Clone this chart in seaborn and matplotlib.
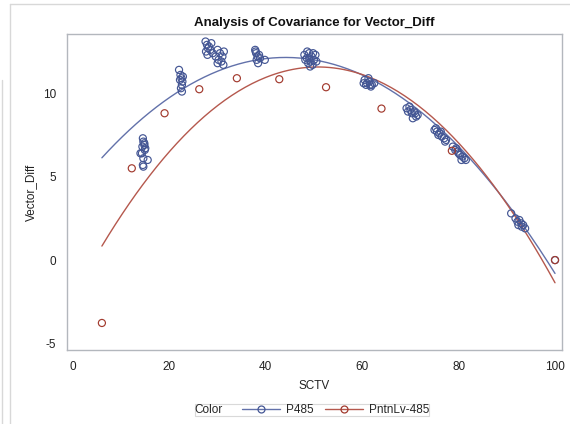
import numpy as np
import pandas as pd
import matplotlib
matplotlib.use("Agg")
import matplotlib.pyplot as plt
import seaborn as sns
from matplotlib.lines import Line2D
from matplotlib.offsetbox import HPacker

# ---- observations -------------------------------------------------------
groups = ["P485", "PntnLv-485"]

p485_sctv = [14.5, 14.6, 14.8, 14.4, 14.9, 14.3, 15.5, 14.0, 14.6, 14.5, 14.6, 14.8, 15.0,
             22.0, 22.3, 22.5, 22.7, 22.6, 22.4, 22.6, 22.2, 22.8,
             27.5, 27.8, 28.0, 27.6, 28.2, 28.5, 27.9, 28.7, 29.0,
             30.0, 30.5, 31.0, 30.2, 30.8, 31.3, 30.0, 29.6, 31.2,
             37.8, 38.0, 38.3, 38.6, 38.1, 38.4, 39.8, 37.9, 38.8,
             48.0, 48.5, 49.0, 49.5, 50.0, 48.8, 49.3, 50.3, 48.2, 49.7, 49.0, 50.5, 48.6, 49.8, 49.2,
             60.5, 61.0, 61.5, 62.0, 60.8, 61.3, 62.5, 61.8, 60.3, 61.6,
             69.2, 69.5, 70.0, 70.3, 70.8, 71.2, 71.5, 70.5, 69.8, 71.0,
             75.0, 75.5, 76.0, 76.5, 77.0, 77.4, 75.8, 76.3, 77.2, 75.3,
             78.8, 79.3, 79.8, 80.3, 80.8, 81.2, 79.5, 80.0, 80.6, 81.5,
             90.9, 91.8, 92.2, 92.6, 93.0, 93.4, 93.8, 92.4, 93.1,
             100.0]
p485_diff = [7.3, 7.1, 6.9, 6.8, 6.6, 6.4, 6.0, 6.4, 6.1, 5.7, 5.6, 7.0, 6.7,
             11.4, 11.1, 10.9, 10.7, 10.5, 10.3, 10.1, 10.8, 11.0,
             13.1, 12.9, 12.7, 12.5, 12.8, 12.6, 12.3, 13.0, 12.4,
             12.6, 12.4, 12.2, 12.0, 11.9, 12.5, 11.8, 12.2, 11.7,
             12.6, 12.4, 12.2, 12.3, 12.0, 11.8, 12.0, 12.5, 12.1,
             12.3, 12.1, 12.4, 12.2, 12.0, 11.8, 11.9, 12.3, 12.0, 11.7, 12.1, 11.9, 12.5, 12.4, 11.6,
             10.8, 10.6, 10.7, 10.5, 10.5, 10.9, 10.6, 10.4, 10.6, 10.5,
             9.1, 8.9, 9.0, 8.8, 8.9, 8.6, 8.7, 8.5, 9.2, 8.8,
             7.8, 7.7, 7.6, 7.4, 7.3, 7.2, 7.5, 7.7, 7.1, 7.9,
             6.8, 6.6, 6.5, 6.3, 6.2, 6.1, 6.7, 6.4, 6.0, 6.0,
             2.8, 2.5, 2.3, 2.4, 2.2, 2.1, 1.9, 2.1, 2.0,
             0.0]

pntn_sctv = [6.0, 12.2, 19.0, 26.2, 34.0, 42.8, 52.5, 64.0, 78.6, 100.0]
pntn_diff = [-3.77, 5.5, 8.8, 10.24, 10.9, 10.84, 10.36, 9.08, 6.55, 0.0]

# ---- fitted quadratic curves (values at SCTV = 6, 50, 100) ---------------
fit_sctv = [6.0, 50.0, 100.0]
p485_fit = [6.13, 12.0, -0.8]
pntn_fit = [0.84, 11.57, -1.36]

colors = {"P485": "#445694", "PntnLv-485": "#A23A2E"}
line_colors = {"P485": "#6271AA", "PntnLv-485": "#B5584D"}

obs = pd.concat([
    pd.DataFrame({"SCTV": p485_sctv, "Vector_Diff": p485_diff, "Color": groups[0]}),
    pd.DataFrame({"SCTV": pntn_sctv, "Vector_Diff": pntn_diff, "Color": groups[1]}),
], ignore_index=True)

grid = np.linspace(fit_sctv[0], fit_sctv[-1], 200)
curves = []
for g, vals in zip(groups, [p485_fit, pntn_fit]):
    coef = np.polyfit(fit_sctv, vals, 2)
    curves.append(pd.DataFrame({"SCTV": grid, "Vector_Diff": np.polyval(coef, grid), "Color": g}))
curves = pd.concat(curves, ignore_index=True)

# ---- drawing -------------------------------------------------------------
sns.set_style("white")
plt.rcParams["font.family"] = ["Liberation Sans", "DejaVu Sans"]
plt.rcParams["axes.unicode_minus"] = False

fig = plt.figure(figsize=(5.70, 4.24), dpi=100)
ax = fig.add_axes([67 / 570, 1 - 350 / 424, (562 - 67) / 570, (350 - 34) / 424])

sns.lineplot(data=curves, x="SCTV", y="Vector_Diff", hue="Color", palette=line_colors,
             hue_order=groups, lw=1.0, ax=ax, legend=False, zorder=2)
sns.scatterplot(data=obs, x="SCTV", y="Vector_Diff", hue="Color", palette=colors,
                hue_order=groups, s=26, linewidth=0.85, ax=ax, legend=False, zorder=3)
# hollow circle markers
for coll in ax.collections:
    fc = coll.get_facecolors()
    coll.set_edgecolors(fc)
    coll.set_facecolors("none")

ax.set_xlim(-1.24, 101.45)
ax.set_ylim(-5.39, 13.55)
ax.set_xticks([0, 20, 40, 60, 80, 100])
ax.set_yticks([-5, 0, 5, 10])

axis_gray = "#B3B7BD"
for sp in ax.spines.values():
    sp.set_color(axis_gray)
    sp.set_linewidth(1.0)
ax.tick_params(axis="both", direction="out", length=5, width=1.0, color=axis_gray,
               labelsize=8.5, labelcolor="#222222", pad=3)

ax.set_xlabel("SCTV", fontsize=8.5, color="#222222", labelpad=5)
ax.set_ylabel("Vector_Diff", fontsize=8.5, color="#222222", labelpad=4)
ax.set_title("Analysis of Covariance for Vector_Diff", fontsize=9.5, fontweight="bold",
             color="#111111", pad=6)

# legend with the group title placed inline at the left
handles = [Line2D([0], [0], color=line_colors[g], lw=1.0, marker="o", markersize=5,
                  markerfacecolor="none", markeredgecolor=colors[g], markeredgewidth=0.9)
           for g in groups]
leg = ax.legend(handles, groups, title="Color", ncol=2, loc="center",
                bbox_to_anchor=(312 / 570, 1 - 410 / 424), bbox_transform=fig.transFigure,
                fontsize=8.5, title_fontsize=8.5, frameon=True, fancybox=False,
                handlelength=3.2, handletextpad=0.5, columnspacing=1.0,
                borderpad=0.35, edgecolor="#D0D0D0")
leg.get_frame().set_linewidth(0.8)
leg._legend_box = HPacker(children=[leg._legend_title_box, leg._legend_handle_box],
                          pad=0, sep=14, align="center")
leg._legend_box.set_figure(fig)
leg._legend_box.set_offset(leg._findoffset)

# page frame around the graph
for xs, ys in [([10, 570], [4, 4]), ([10, 10], [4, 424]), ([2, 2], [80, 424])]:
    fig.add_artist(Line2D([x / 570 for x in xs], [1 - y / 424 for y in ys],
                          transform=fig.transFigure, color="#D8D8D8", lw=1.0))

fig.savefig("out.png", dpi=100)
